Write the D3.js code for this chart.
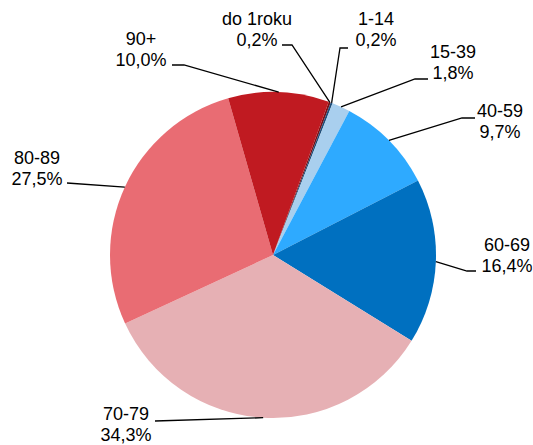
<!DOCTYPE html>
<html lang="pl">
<head>
<meta charset="UTF-8">
<title>Pie</title>
<script src="https://d3js.org/d3.v7.min.js"></script>
<style>
  body { margin: 0; background: #fff; }
  text { font-family: "Liberation Sans", Arial, sans-serif; font-size: 18px; fill: #000; }
</style>
</head>
<body>
<svg id="canvas"></svg>
<script>
// data
let categories = ['do 1roku', '1-14', '15-39', '40-59', '60-69', '70-79', '80-89', '90+']
let values = [0.2, 0.2, 1.8, 9.7, 16.4, 34.3, 27.5, 10.0]
let valueLabels = ['0,2%', '0,2%', '1,8%', '9,7%', '16,4%', '34,3%', '27,5%', '10,0%']

let colors = ['#7a1016', '#1f4e79', '#a9cfee', '#2eaaff', '#0070c0', '#e6b0b4', '#e96c73', '#c01a21']

// label layout: text centre x, first baseline y, leader end (at label) and elbow
let labelPos = [
  { x: 257, y: 25, lx: 282, ly: 45, ex: 292 },
  { x: 376, y: 25, lx: 348, ly: 48, ex: 340 },
  { x: 453, y: 58, lx: 428, ly: 79, ex: 415 },
  { x: 500, y: 117, lx: 475, ly: 118, ex: 462 },
  { x: 507, y: 251, lx: 476, ly: 271, ex: 467 },
  { x: 126, y: 420, lx: 155, ly: 421, ex: 155 },
  { x: 37, y: 164, lx: 67, ly: 183, ex: 67 },
  { x: 141, y: 45, lx: 172, ly: 65, ex: 184 }
]

let width = 533
let height = 445
let cx = 273
let cy = 255
let radius = 163
let startAngle = 20 * Math.PI / 180

let svg = d3.select('svg').attr('width', width).attr('height', height)

let pie = d3.pie()
  .sort(null)
  .startAngle(startAngle)
  .endAngle(startAngle + 2 * Math.PI)
  .value((d) => d)

let arcs = pie(values)

let arc = d3.arc().innerRadius(0).outerRadius(radius)

let g = svg.append('g').attr('transform', 'translate(' + cx + ',' + cy + ')')

g.selectAll('path')
  .data(arcs)
  .enter()
  .append('path')
  .attr('d', arc)
  .attr('fill', (d, i) => colors[i])

// leader lines
let edgePoint = (d) => {
  let a = (d.startAngle + d.endAngle) / 2
  return [cx + radius * Math.sin(a), cy - radius * Math.cos(a)]
}

svg.selectAll('polyline')
  .data(arcs)
  .enter()
  .append('polyline')
  .attr('fill', 'none')
  .attr('stroke', '#000')
  .attr('stroke-width', 1.3)
  .attr('points', (d, i) => {
    let p = labelPos[i]
    let e = edgePoint(d)
    return [[p.lx, p.ly], [p.ex, p.ly], e].map((q) => q.join(',')).join(' ')
  })

// labels
let labels = svg.selectAll('text.lbl')
  .data(categories)
  .enter()
  .append('text')
  .attr('class', 'lbl')
  .attr('text-anchor', 'middle')

labels.append('tspan')
  .attr('x', (d, i) => labelPos[i].x)
  .attr('y', (d, i) => labelPos[i].y)
  .text((d) => d)

labels.append('tspan')
  .attr('x', (d, i) => labelPos[i].x)
  .attr('y', (d, i) => labelPos[i].y + 21)
  .text((d, i) => valueLabels[i])
</script>
</body>
</html>
